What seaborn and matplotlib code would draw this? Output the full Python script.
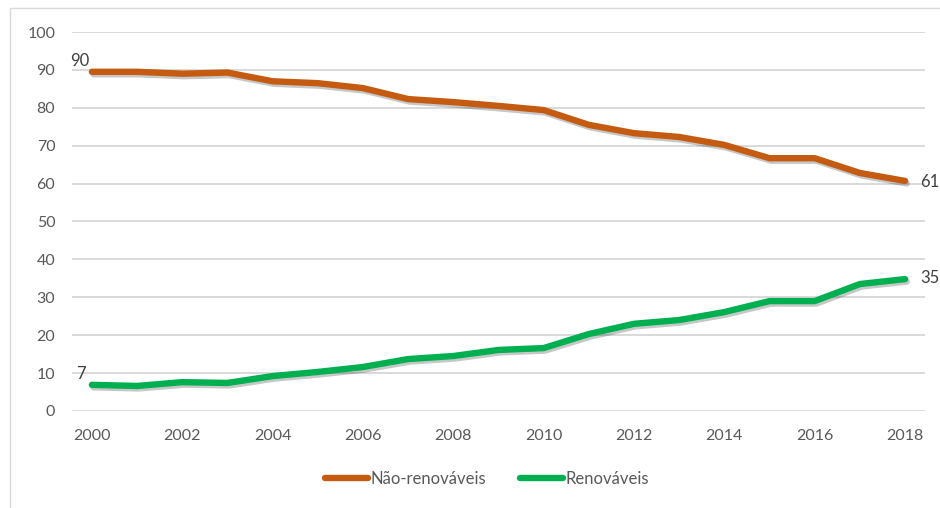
import matplotlib
matplotlib.use("Agg")
import matplotlib.pyplot as plt
import matplotlib.patheffects as pe
from matplotlib.lines import Line2D
import pandas as pd
import seaborn as sns

years = list(range(2000, 2019))
nao_renovaveis = [89.5, 89.5, 89.0, 89.3, 87.0, 86.5, 85.2, 82.3, 81.5, 80.5,
                  79.4, 75.5, 73.3, 72.3, 70.2, 66.7, 66.7, 62.8, 60.7]
renovaveis = [6.9, 6.6, 7.6, 7.4, 9.2, 10.3, 11.6, 13.7, 14.5, 16.1,
              16.6, 20.3, 23.0, 24.0, 26.1, 29.0, 29.0, 33.5, 34.8]
series_names = ["Não-renováveis", "Renováveis"]
colors = ["#C55A11", "#00B050"]
x_ticks = list(range(2000, 2019, 2))
y_ticks = list(range(0, 101, 10))

df = pd.DataFrame({
    "ano": years * 2,
    "valor": nao_renovaveis + renovaveis,
    "serie": [series_names[0]] * len(years) + [series_names[1]] * len(years),
})

sns.set_theme(style="white")
plt.rcParams["font.family"] = ["Lato", "DejaVu Sans"]

fig = plt.figure(figsize=(9.4, 5.08), dpi=100)
ax = fig.add_axes([0.0766, 0.191, 0.9074, 0.746])

shadow = [pe.SimpleLineShadow(offset=(1.2, -1.8), shadow_color="#000000", alpha=0.22),
          pe.Normal()]

sns.lineplot(data=df, x="ano", y="valor", hue="serie", palette=colors,
             hue_order=series_names, linewidth=4.6, ax=ax, legend=False)
for line in ax.lines:
    line.set_solid_capstyle("round")
    line.set_solid_joinstyle("round")
    line.set_path_effects(shadow)

ax.set_xlim(1999.56, 2018.44)
ax.set_ylim(0, 100)
ax.set_xticks(x_ticks)
ax.set_yticks(y_ticks)
ax.yaxis.grid(True, color="#D9D9D9", linewidth=1.4)
ax.set_axisbelow(True)
for s in ax.spines.values():
    s.set_visible(False)
ax.tick_params(axis="both", length=0, labelsize=11.5, labelcolor="#595959")
ax.tick_params(axis="y", pad=12)
ax.tick_params(axis="x", pad=13)
ax.set_xlabel("")
ax.set_ylabel("")

# value labels at the first and last year
lab = dict(fontsize=12, color="#404040")
ax.annotate(f"{nao_renovaveis[0]:.0f}", (years[0], nao_renovaveis[0]),
            xytext=(-16, 4), textcoords="offset points", **lab)
ax.annotate(f"{renovaveis[0]:.0f}", (years[0], renovaveis[0]),
            xytext=(-11, 4), textcoords="offset points", **lab)
ax.annotate(f"{nao_renovaveis[-1]:.0f}", (years[-1], nao_renovaveis[-1]),
            xytext=(11, -1), textcoords="offset points", va="center",
            annotation_clip=False, **lab)
ax.annotate(f"{renovaveis[-1]:.0f}", (years[-1], renovaveis[-1]),
            xytext=(11, 1), textcoords="offset points", va="center",
            annotation_clip=False, **lab)

handles = [plt.Line2D([], [], color=c, linewidth=4.6, solid_capstyle="round")
           for c in colors]
fig.legend(handles, series_names, loc="center", bbox_to_anchor=(0.518, 0.057),
           ncol=2, frameon=False, fontsize=12, labelcolor="#595959",
           handlelength=2.6, handletextpad=0.15, columnspacing=2.0)

# chart-area frame: top and left edges
fig.lines.append(Line2D([0.011, 1.0], [0.984, 0.984], transform=fig.transFigure,
                        color="#D9D9D9", linewidth=1.0))
fig.lines.append(Line2D([0.011, 0.011], [0.0, 0.984], transform=fig.transFigure,
                        color="#D9D9D9", linewidth=1.0))

fig.savefig("out.png", dpi=100, facecolor="white")
